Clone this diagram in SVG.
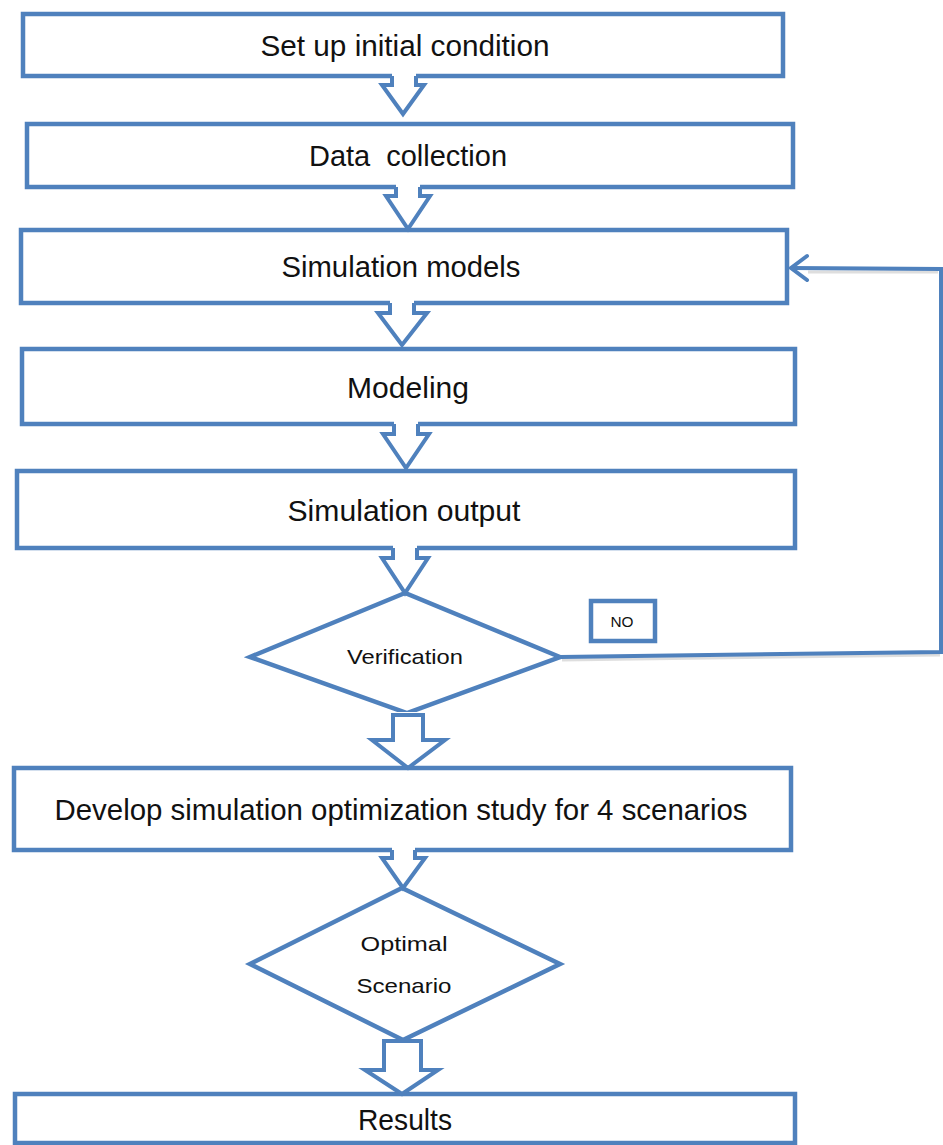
<svg xmlns="http://www.w3.org/2000/svg" width="943" height="1145" viewBox="0 0 943 1145">
<style>
.box{fill:#fff;stroke:#4F81BD;stroke-width:4.5}
.dia{fill:#fff;stroke:#4F81BD;stroke-width:4.5;stroke-linejoin:miter}
.arr{fill:none;stroke:#4F81BD;stroke-width:4;stroke-linejoin:miter}
.cov{fill:#fff;stroke:none}
.line{fill:none;stroke:#4F81BD;stroke-width:4;stroke-linejoin:miter}
.shadow{fill:none;stroke:#c8c8c8;stroke-width:3;opacity:0.6}
.t{font-family:"Liberation Sans Narrow","Liberation Sans",Arial,sans-serif;fill:#111;text-anchor:middle;white-space:pre}
.big{font-size:30px}
.mid{font-size:21px}
.sm{font-size:14px}
</style>
<g id="n1"><rect class="box" x="23" y="14" width="760" height="62"/><text class="t big" x="405" y="56" textLength="289" lengthAdjust="spacingAndGlyphs">Set up initial condition</text></g>
<g id="n2"><rect class="box" x="27" y="124" width="766" height="63"/><text class="t big" x="408" y="166" textLength="198" lengthAdjust="spacingAndGlyphs" xml:space="preserve">Data  collection</text></g>
<g id="n3"><rect class="box" x="21" y="230" width="766" height="73"/><text class="t big" x="401" y="277" textLength="239" lengthAdjust="spacingAndGlyphs">Simulation models</text></g>
<g id="n4"><rect class="box" x="22" y="349" width="773" height="75"/><text class="t big" x="408" y="398" textLength="122" lengthAdjust="spacingAndGlyphs">Modeling</text></g>
<g id="n5"><rect class="box" x="17" y="471" width="778" height="77"/><text class="t big" x="404" y="521" textLength="233" lengthAdjust="spacingAndGlyphs">Simulation output</text></g>
<g id="n6"><polygon class="dia" points="405,593 250,657 407,713 560,657"/><text class="t mid" x="405" y="664" textLength="116" lengthAdjust="spacingAndGlyphs">Verification</text></g>
<g id="n7"><rect class="box" x="591" y="601" width="64" height="40" stroke-width="4"/><text class="t sm" x="622" y="627" textLength="23" lengthAdjust="spacingAndGlyphs">NO</text></g>
<g id="n8"><rect class="box" x="14" y="768" width="777" height="82"/><text class="t big" x="401" y="820" textLength="693" lengthAdjust="spacingAndGlyphs">Develop simulation optimization study for 4 scenarios</text></g>
<g id="n9"><polygon class="dia" points="402,888 250,964 403,1040 560,964"/><text class="t mid" x="404" y="951" textLength="87" lengthAdjust="spacingAndGlyphs">Optimal</text><text class="t mid" x="404" y="993" textLength="95" lengthAdjust="spacingAndGlyphs">Scenario</text></g>
<g id="n10"><rect class="box" x="15" y="1094" width="780" height="49"/><text class="t big" x="405" y="1130" textLength="94" lengthAdjust="spacingAndGlyphs">Results</text></g>
<g id="connectors">
<g id="a1"><path class="cov" d="M392,72 V85 H382 L403,114 L424,85 H416 V72 Z"/><path class="arr" d="M392,76 V85 H382 L403,114 L424,85 H416 V76"/></g>
<g id="a2"><path class="cov" d="M396,183 V196 H386 L408,229 L430,196 H420 V183 Z"/><path class="arr" d="M396,187 V196 H386 L408,229 L430,196 H420 V187"/></g>
<g id="a3"><path class="cov" d="M390,299 V313 H378 L402,345 L427,313 H414 V299 Z"/><path class="arr" d="M390,303 V313 H378 L402,345 L427,313 H414 V303"/></g>
<g id="a4"><path class="cov" d="M394,420 V434 H383 L406,468 L429,434 H418 V420 Z"/><path class="arr" d="M394,424 V434 H383 L406,468 L429,434 H418 V424"/></g>
<g id="a5"><path class="cov" d="M393,544 V558 H382 L405,593 L428,558 H417 V544 Z"/><path class="arr" d="M393,548 V558 H382 L405,593 L428,558 H417 V548"/></g>
<g id="a6"><path class="cov" d="M393,712 V740 H372 L408,768 L445,740 H423 V712 Z"/><path class="arr" d="M393,715 V740 H372 L408,768 L445,740 H423 V715 Z"/></g>
<g id="a7"><path class="cov" d="M392,846 V858 H382 L403,888 L425,858 H415 V846 Z"/><path class="arr" d="M392,850 V858 H382 L403,888 L425,858 H415 V850"/></g>
<g id="a8"><path class="cov" d="M384,1038 V1070 H365 L402,1094 L438,1070 H421 V1041 Z"/><path class="arr" d="M384,1041 V1070 H365 L402,1094 L438,1070 H421 V1041 Z"/></g>
<g id="fb"><polyline class="shadow" points="562,660 940,655"/><polyline class="shadow" points="808,272 938,272"/><polyline class="line" points="560,657 941,652 941,269 791,268"/><polyline class="line" points="807,256 791,268 807,280" stroke-linecap="round"/></g>
</g>
</svg>
